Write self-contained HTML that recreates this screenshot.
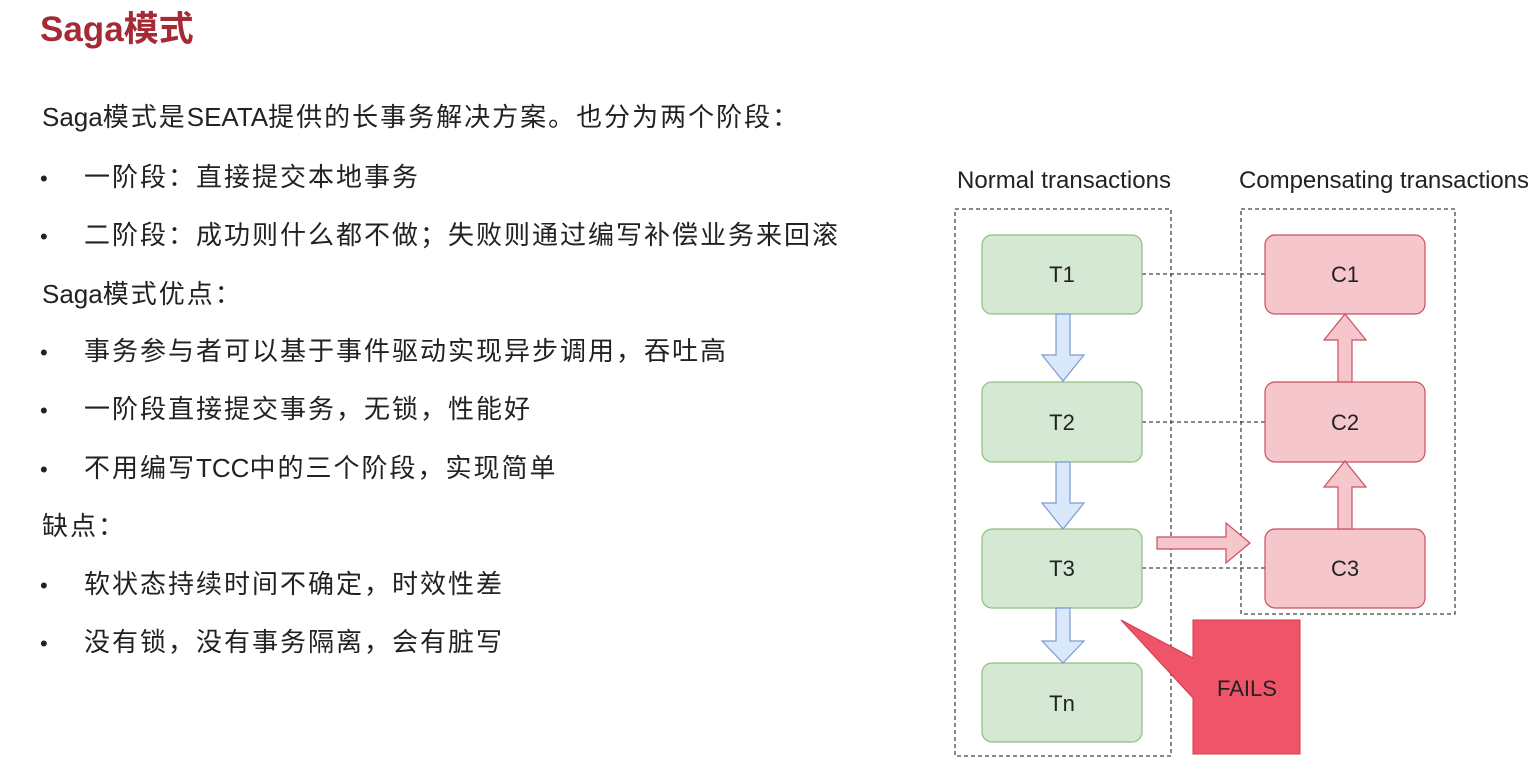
<!DOCTYPE html>
<html><head><meta charset="utf-8"><style>
body{margin:0;width:1540px;height:777px;background:#fff;position:relative;overflow:hidden;font-family:"Liberation Sans","Noto Sans CJK SC",sans-serif;color:#222}
.t{position:absolute;font-size:26px;letter-spacing:2px;white-space:nowrap;line-height:1}
.t i{font-style:normal;letter-spacing:0}
.b{position:absolute;left:40px;font-size:22px}
</style></head><body>
<div class="t" style="left:40px;top:12px;font-size:35px;letter-spacing:0;font-weight:bold;color:#a52a35">Saga模式</div>
<div class="t" style="left:42px;top:104px"><i>Saga</i>模式是<i>SEATA</i>提供的长事务解决方案。也分为两个阶段：</div>
<div class="b" style="top:166px">•</div><div class="t" style="left:84px;top:164px">一阶段：直接提交本地事务</div>
<div class="b" style="top:224px">•</div><div class="t" style="left:84px;top:222px">二阶段：成功则什么都不做；失败则通过编写补偿业务来回滚</div>
<div class="t" style="left:42px;top:281px"><i>Saga</i>模式优点：</div>
<div class="b" style="top:340px">•</div><div class="t" style="left:84px;top:338px">事务参与者可以基于事件驱动实现异步调用，吞吐高</div>
<div class="b" style="top:398px">•</div><div class="t" style="left:84px;top:396px">一阶段直接提交事务，无锁，性能好</div>
<div class="b" style="top:457px">•</div><div class="t" style="left:84px;top:455px">不用编写<i>TCC</i>中的三个阶段，实现简单</div>
<div class="t" style="left:42px;top:513px">缺点：</div>
<div class="b" style="top:573px">•</div><div class="t" style="left:84px;top:571px">软状态持续时间不确定，时效性差</div>
<div class="b" style="top:631px">•</div><div class="t" style="left:84px;top:629px">没有锁，没有事务隔离，会有脏写</div>
<svg width="1540" height="777" style="position:absolute;left:0;top:0" font-family="Liberation Sans, sans-serif">
<text x="957" y="188" font-size="24" fill="#222" textLength="214">Normal transactions</text>
<text x="1239" y="188" font-size="24" fill="#222" textLength="290">Compensating transactions</text>
<g fill="none" stroke="#444" stroke-width="1.3" stroke-dasharray="4,3">
<rect x="955" y="209" width="216" height="547"/>
<rect x="1241" y="209" width="214" height="405"/>
<line x1="1142" y1="274" x2="1265" y2="274"/>
<line x1="1142" y1="422" x2="1265" y2="422"/>
<line x1="1142" y1="568" x2="1265" y2="568"/>
</g>
<g fill="#d5e8d4" stroke="#8fbf7f" stroke-width="1.2">
<rect x="982" y="235" width="160" height="79" rx="10"/>
<rect x="982" y="382" width="160" height="80" rx="10"/>
<rect x="982" y="529" width="160" height="79" rx="10"/>
<rect x="982" y="663" width="160" height="79" rx="10"/>
</g>
<g fill="#f5c6cb" stroke="#c9505f" stroke-width="1.2">
<rect x="1265" y="235" width="160" height="79" rx="10"/>
<rect x="1265" y="382" width="160" height="80" rx="10"/>
<rect x="1265" y="529" width="160" height="79" rx="10"/>
</g>
<g fill="#dae8fc" stroke="#7c9bd0" stroke-width="1.2">
<path d="M1056 314h14v41h14l-21 26l-21-26h14z"/>
<path d="M1056 462h14v41h14l-21 26l-21-26h14z"/>
<path d="M1056 608h14v33h14l-21 22l-21-22h14z"/>
</g>
<g fill="#f5c6cb" stroke="#c9505f" stroke-width="1.2">
<path d="M1338 382v-42h-14l21-26l21 26h-14v42z"/>
<path d="M1338 529v-42h-14l21-26l21 26h-14v42z"/>
<path d="M1157 537h69v-14l24 20l-24 20v-14h-69z"/>
</g>
<path d="M1193 620h107v134h-107v-56l-72-78l72 38z" fill="#ef5468" stroke="#d03a4d" stroke-width="1"/>
<g font-size="22" fill="#222" text-anchor="middle">
<text x="1062" y="282">T1</text><text x="1062" y="430">T2</text><text x="1062" y="576">T3</text><text x="1062" y="711">Tn</text>
<text x="1345" y="282">C1</text><text x="1345" y="430">C2</text><text x="1345" y="576">C3</text>
<text x="1247" y="696">FAILS</text>
</g>
</svg>
</body></html>
